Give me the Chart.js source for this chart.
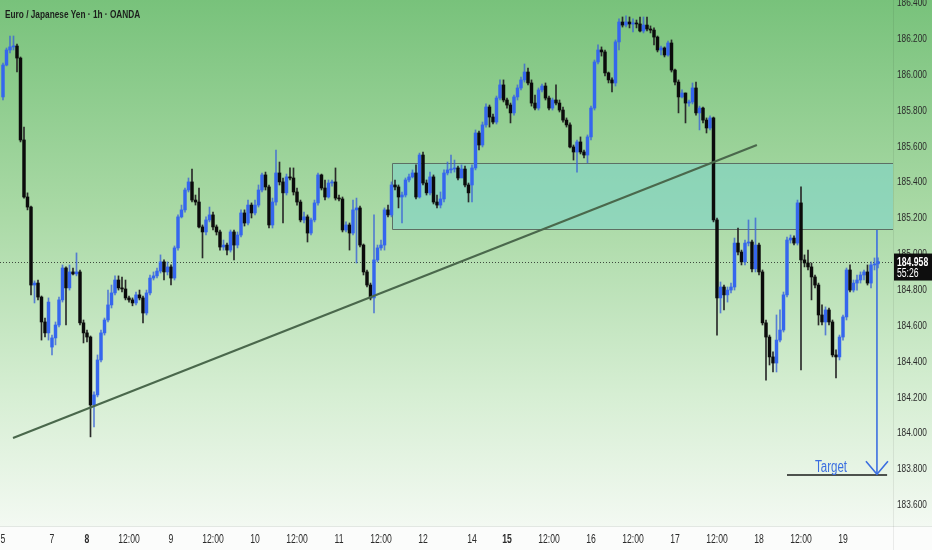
<!DOCTYPE html>
<html><head><meta charset="utf-8">
<script src="https://cdn.jsdelivr.net/npm/chart.js@4.4.1/dist/chart.umd.min.js"></script>
<style>html,body{margin:0;padding:0;background:#fff}#wrap{width:932px;height:550px;position:relative}</style>
</head><body><div id="wrap"><canvas id="c"></canvas></div>
<script>
const titleText = 'Euro / Japanese Yen · 1h · OANDA';
const closes = [
186.054,186.138,186.155,186.160,186.093,185.636,185.318,185.262,184.827,184.838,
184.760,184.621,184.560,184.732,184.532,184.604,184.744,184.922,184.811,184.900,
184.889,184.900,184.616,184.560,184.537,184.158,184.214,184.409,184.560,184.632,
184.716,184.783,184.855,184.811,184.805,184.755,184.744,184.727,184.772,184.755,
184.671,184.783,184.866,184.878,184.905,184.956,184.900,184.928,184.866,185.034,
185.207,185.246,185.357,185.402,185.301,185.290,185.151,185.123,185.190,185.218,
185.151,185.123,185.039,185.050,185.022,185.123,185.050,185.106,185.229,185.173,
185.273,185.229,185.273,185.357,185.441,185.374,185.162,185.290,185.452,185.402,
185.341,185.430,185.424,185.346,185.290,185.190,185.207,185.117,185.190,185.285,
185.441,185.368,185.318,185.396,185.402,185.312,185.307,185.134,185.162,185.117,
185.246,185.257,185.050,184.900,184.827,184.755,184.967,185.034,185.050,185.246,
185.218,185.385,185.374,185.318,185.329,185.413,185.430,185.452,185.318,185.552,
185.396,185.341,185.430,185.290,185.273,185.307,185.452,185.469,185.474,185.480,
185.424,185.474,185.385,185.341,185.480,185.675,185.608,185.720,185.820,185.764,
185.736,185.870,185.943,185.859,185.831,185.787,185.876,185.926,185.971,186.015,
185.954,185.842,185.814,185.915,185.937,185.870,185.814,185.859,185.842,185.803,
185.747,185.720,185.597,185.569,185.625,185.569,185.552,185.653,185.814,186.071,
186.138,186.127,186.010,185.971,185.954,186.183,186.294,186.277,186.294,186.283,
186.288,186.283,186.244,186.277,186.255,186.249,186.210,186.138,186.149,186.110,
186.177,186.026,185.959,185.876,185.898,185.842,185.848,185.926,185.787,185.814,
185.747,185.703,185.759,185.190,184.755,184.816,184.772,184.799,184.816,185.061,
185.011,184.956,185.061,185.067,184.917,185.050,184.900,184.616,184.537,184.426,
184.392,184.520,184.576,184.772,185.078,185.089,185.061,185.285,184.967,184.950,
184.928,184.872,184.827,184.660,184.621,184.688,184.621,184.437,184.426,184.537,
184.649,184.911,184.799,184.838,184.855,184.883,184.900,184.838,184.939,184.945,
184.958];
const highs = [
186.065,186.149,186.216,186.216,186.171,186.099,185.708,185.341,185.268,184.850,
184.855,184.766,184.643,184.755,184.548,184.621,184.760,184.939,184.928,184.939,
184.922,185.006,184.911,184.632,184.576,184.543,184.231,184.437,184.576,184.643,
184.799,184.827,184.878,184.878,184.872,184.855,184.766,184.755,184.788,184.799,
184.766,184.799,184.883,184.900,184.922,184.995,184.967,184.956,184.939,185.045,
185.218,185.273,185.368,185.424,185.474,185.329,185.368,185.162,185.207,185.262,
185.234,185.162,185.134,185.078,185.061,185.134,185.134,185.123,185.246,185.246,
185.301,185.285,185.301,185.385,185.452,185.457,185.385,185.312,185.580,185.513,
185.424,185.446,185.480,185.480,185.368,185.301,185.234,185.218,185.201,185.301,
185.452,185.446,185.413,185.413,185.413,185.480,185.329,185.318,185.179,185.173,
185.301,185.312,185.268,185.056,184.911,184.838,185.218,185.050,185.078,185.257,
185.273,185.402,185.413,185.385,185.346,185.424,185.446,185.469,185.497,185.563,
185.569,185.413,185.457,185.441,185.329,185.346,185.469,185.513,185.552,185.524,
185.491,185.497,185.491,185.396,185.497,185.692,185.686,185.736,185.837,185.831,
185.781,185.881,185.971,185.971,185.870,185.842,185.887,185.943,185.987,186.060,
186.037,185.971,185.887,185.926,185.948,185.954,185.881,185.870,185.943,185.859,
185.820,185.759,185.731,185.608,185.636,185.653,185.580,185.664,185.825,186.082,
186.166,186.155,186.138,186.015,185.982,186.194,186.311,186.322,186.328,186.322,
186.311,186.305,186.322,186.322,186.322,186.272,186.261,186.216,186.160,186.155,
186.188,186.194,186.032,185.971,185.915,185.898,185.859,185.954,185.959,185.825,
185.820,185.759,185.770,185.764,185.201,184.844,184.827,184.816,184.838,185.089,
185.145,185.022,185.078,185.190,185.078,185.201,185.061,184.911,184.632,184.548,
184.454,184.660,184.688,184.788,185.095,185.106,185.101,185.301,185.374,184.995,
185.022,184.950,184.883,184.838,184.716,184.705,184.699,184.632,184.465,184.548,
184.660,184.922,184.939,184.855,184.883,184.900,184.911,184.939,184.956,184.978,
184.978];
const lows = [
185.859,186.049,186.121,186.138,186.015,185.625,185.312,185.246,184.772,184.727,
184.744,184.520,184.537,184.520,184.437,184.493,184.593,184.732,184.604,184.799,
184.883,184.878,184.604,184.504,184.509,183.980,184.035,184.203,184.398,184.548,
184.621,184.699,184.772,184.799,184.788,184.744,184.732,184.711,184.716,184.744,
184.616,184.660,184.772,184.855,184.866,184.894,184.855,184.883,184.827,184.855,
185.022,185.201,185.234,185.346,185.290,185.273,185.145,184.978,185.106,185.179,
185.134,185.106,185.022,185.022,184.995,185.011,184.967,185.034,185.095,185.156,
185.162,185.201,185.218,185.262,185.346,185.357,185.145,185.145,185.273,185.385,
185.173,185.329,185.413,185.329,185.273,185.179,185.173,185.067,185.106,185.179,
185.273,185.357,185.301,185.312,185.379,185.301,185.296,185.123,185.123,185.022,
185.106,184.950,185.039,184.883,184.816,184.744,184.671,184.956,185.022,185.022,
185.207,185.207,185.357,185.257,185.173,185.318,185.402,185.424,185.307,185.312,
185.385,185.329,185.329,185.279,185.257,185.257,185.290,185.441,185.452,185.457,
185.413,185.430,185.374,185.290,185.290,185.469,185.580,185.597,185.708,185.708,
185.725,185.725,185.859,185.848,185.814,185.731,185.775,185.859,185.915,185.959,
185.943,185.825,185.803,185.803,185.904,185.859,185.803,185.803,185.831,185.792,
185.736,185.708,185.591,185.524,185.457,185.558,185.536,185.508,185.636,185.803,
186.060,186.104,185.993,185.954,185.904,185.937,186.138,186.266,186.266,186.261,
186.238,186.261,186.238,186.233,186.244,186.233,186.166,186.127,186.110,186.099,
186.104,186.015,185.943,185.787,185.870,185.731,185.825,185.837,185.775,185.692,
185.731,185.675,185.692,185.179,184.548,184.671,184.688,184.732,184.783,184.799,
184.995,184.939,184.939,185.045,184.900,184.900,184.883,184.604,184.297,184.381,
184.342,184.342,184.509,184.565,184.760,185.061,185.050,185.050,184.353,184.928,
184.911,184.744,184.811,184.604,184.604,184.548,184.604,184.426,184.309,184.409,
184.520,184.632,184.788,184.788,184.799,184.838,184.855,184.827,184.811,184.911,
184.922];
// opening prices where the bar does not open at the previous close (start of series, weekend gaps)
const gapOpens = {0: 185.876, 14: 184.481, 134: 185.385};
const xTickIdx = [0,14,24,36,48,60,72,84,96,108,120,134,144,156,168,180,192,204,216,228,240];
const xTickLabels = ['5','7','8','12:00','9','12:00','10','12:00','11','12:00','12','14','15','12:00','16','12:00','17','12:00','18','12:00','19'];
const boldTickLabels = ['8','15'];
const priceTicks = [183.6,183.8,184.0,184.2,184.4,184.6,184.8,185.0,185.2,185.4,185.6,185.8,186.0,186.2,186.4];
const lastPrice = 184.958;
const countdown = '55:26';
const zone = {fromBar: 111.1, top: 185.508, bottom: 185.140};
const trend = {bar0: 2.86, price0: 183.974, bar1: 215.4, price1: 185.608};
const target = {bar0: 224.0, bar1: 252.6, price: 183.768, label: 'Target', labelBar: 232.0};
const arrow = {bar: 249.7, from: 185.134, to: 183.772};

const opens = closes.map((c, i) => (i in gapOpens) ? gapOpens[i] : closes[i - 1]);
const UP = '#3566ee', DOWN = '#0b0b0b';
const FONT = '"Liberation Sans", Arial, sans-serif';
const SX = 0.72; // horizontal condensing of all texts

const bodies = closes.map((c, i) => ({x: i, y: [opens[i], c]}));
const wicks = closes.map((c, i) => ({x: i, y: [lows[i], highs[i]]}));
const isUp = i => closes[i] >= opens[i];

const canvas = document.getElementById('c');
const ctx2d = canvas.getContext('2d');
// condense Chart.js tick label text horizontally (applied right after each label's own transform)
const origRotate = ctx2d.rotate.bind(ctx2d);
ctx2d.rotate = function (a) { origRotate(a); ctx2d.scale(SX, 1); };

function condensedText(ctx, text, x, y, align) {
  ctx.save();
  ctx.translate(x, y);
  ctx.scale(SX, 1);
  ctx.textAlign = align || 'left';
  ctx.fillText(text, 0, 0);
  ctx.restore();
}

const overlay = {
  id: 'overlay',
  beforeDraw(chart) {
    const {ctx, width, height, chartArea} = chart;
    ctx.save();
    ctx.fillStyle = '#fbfcfb';
    ctx.fillRect(0, 0, width, height);
    const g = ctx.createLinearGradient(0, 0, 0, chartArea.bottom);
    g.addColorStop(0, '#78c27b');
    g.addColorStop(0.4, '#a9d9a5');
    g.addColorStop(0.75, '#d6eed3');
    g.addColorStop(1, '#f3f9f2');
    ctx.fillStyle = g;
    ctx.fillRect(0, 0, width, chartArea.bottom);
    ctx.strokeStyle = '#e2e7e2';
    ctx.lineWidth = 1;
    ctx.beginPath(); ctx.moveTo(0, chartArea.bottom + 0.5); ctx.lineTo(width, chartArea.bottom + 0.5); ctx.stroke();
    ctx.strokeStyle = 'rgba(0,0,0,0.07)';
    ctx.beginPath(); ctx.moveTo(chartArea.right + 0.5, 0); ctx.lineTo(chartArea.right + 0.5, height); ctx.stroke();
    ctx.restore();
  },
  beforeDatasetsDraw(chart) {
    const {ctx, chartArea} = chart;
    const xs = chart.scales.x, ys = chart.scales.y;
    ctx.save();
    const x0 = xs.getPixelForValue(zone.fromBar);
    const y0 = ys.getPixelForValue(zone.top), y1 = ys.getPixelForValue(zone.bottom);
    ctx.fillStyle = 'rgba(126,211,200,0.6)';
    ctx.fillRect(x0, y0, chartArea.right - x0, y1 - y0);
    ctx.strokeStyle = '#5d6f64';
    ctx.lineWidth = 1;
    ctx.beginPath();
    ctx.moveTo(chartArea.right, Math.round(y0) + 0.5); ctx.lineTo(Math.round(x0) + 0.5, Math.round(y0) + 0.5);
    ctx.lineTo(Math.round(x0) + 0.5, Math.round(y1) + 0.5); ctx.lineTo(chartArea.right, Math.round(y1) + 0.5);
    ctx.stroke();
    const yp = Math.round(ys.getPixelForValue(lastPrice)) + 0.5;
    ctx.strokeStyle = '#3f4a3f';
    ctx.setLineDash([1, 2]);
    ctx.beginPath(); ctx.moveTo(chartArea.left, yp); ctx.lineTo(chartArea.right, yp); ctx.stroke();
    ctx.restore();
  },
  afterDatasetsDraw(chart) {
    const {ctx} = chart;
    const xs = chart.scales.x, ys = chart.scales.y;
    ctx.save();
    ctx.strokeStyle = '#4a684c';
    ctx.lineWidth = 2.2;
    ctx.beginPath();
    ctx.moveTo(xs.getPixelForValue(trend.bar0), ys.getPixelForValue(trend.price0));
    ctx.lineTo(xs.getPixelForValue(trend.bar1), ys.getPixelForValue(trend.price1));
    ctx.stroke();
    const ty = ys.getPixelForValue(target.price);
    ctx.strokeStyle = '#4d524d';
    ctx.lineWidth = 2;
    ctx.beginPath();
    ctx.moveTo(xs.getPixelForValue(target.bar0), ty);
    ctx.lineTo(xs.getPixelForValue(target.bar1), ty);
    ctx.stroke();
    ctx.fillStyle = '#3b6ee0';
    ctx.font = '16px ' + FONT;
    ctx.textBaseline = 'alphabetic';
    condensedText(ctx, target.label, xs.getPixelForValue(target.labelBar), ty - 3);
    const ax = xs.getPixelForValue(arrow.bar);
    const ayTop = ys.getPixelForValue(arrow.from), ayBot = ys.getPixelForValue(arrow.to);
    ctx.strokeStyle = '#3b6ee0';
    ctx.lineWidth = 1.6;
    ctx.beginPath(); ctx.moveTo(ax, ayTop); ctx.lineTo(ax, ayBot); ctx.stroke();
    ctx.beginPath();
    ctx.moveTo(ax - 11, ayBot - 13); ctx.lineTo(ax, ayBot); ctx.lineTo(ax + 11, ayBot - 13);
    ctx.stroke();
    ctx.restore();
  },
  afterDraw(chart) {
    const {ctx, chartArea, width} = chart;
    const ys = chart.scales.y;
    ctx.save();
    const yp = ys.getPixelForValue(lastPrice);
    ctx.fillStyle = '#0e0e0e';
    ctx.fillRect(chartArea.right + 1, yp - 8, width - chartArea.right - 1, 27);
    ctx.fillStyle = '#ffffff';
    ctx.textBaseline = 'middle';
    ctx.font = 'bold 12px ' + FONT;
    condensedText(ctx, lastPrice.toFixed(3), chartArea.right + 4, yp + 1);
    ctx.font = '12px ' + FONT;
    condensedText(ctx, countdown, chartArea.right + 4, yp + 12);
    ctx.fillStyle = '#1c1f1c';
    ctx.font = 'bold 11.5px ' + FONT;
    ctx.textBaseline = 'alphabetic';
    condensedText(ctx, titleText, 5, 18);
    ctx.restore();
  }
};

new Chart(canvas, {
  type: 'bar',
  data: {
    datasets: [
      {
        label: 'body', data: bodies, order: 0, grouped: false,
        barThickness: 2.8, minBarLength: 1, borderWidth: 0,
        backgroundColor: c => isUp(c.dataIndex) ? UP : DOWN
      },
      {
        label: 'wick', data: wicks, order: 1, grouped: false,
        barThickness: 1, borderWidth: 0,
        backgroundColor: c => isUp(c.dataIndex) ? 'rgba(60,100,215,0.8)' : '#2a2a2a'
      }
    ]
  },
  options: {
    responsive: true, maintainAspectRatio: false, animation: false,
    layout: {padding: 0},
    plugins: {legend: {display: false}, tooltip: {enabled: false}},
    scales: {
      x: {
        type: 'linear', offset: false, min: -0.857, max: 254.286,
        grid: {display: false, drawTicks: false}, border: {display: false},
        afterBuildTicks: s => { s.ticks = xTickIdx.map(v => ({value: v})); },
        afterFit: s => { s.height = 24; s.paddingLeft = 0; s.paddingRight = 0; },
        ticks: {
          autoSkip: false, maxRotation: 0, minRotation: 0, padding: 6, color: '#2b2b2b',
          callback: (v, i) => xTickLabels[i],
          font: c => ({family: FONT, size: 12, weight: boldTickLabels.includes(xTickLabels[c.index]) ? 'bold' : 'normal'})
        }
      },
      y: {
        type: 'linear', position: 'right', min: 183.483, max: 186.4167,
        grid: {display: false, drawTicks: false}, border: {display: false},
        afterBuildTicks: s => { s.ticks = priceTicks.map(v => ({value: v})); },
        afterFit: s => { s.width = 39; s.paddingTop = 0; s.paddingBottom = 0; },
        ticks: {
          padding: 4, color: '#2b2b2b', font: {family: FONT, size: 11.5},
          callback: v => Number(v).toFixed(3)
        }
      }
    }
  },
  plugins: [overlay]
});
</script>
</body></html>
